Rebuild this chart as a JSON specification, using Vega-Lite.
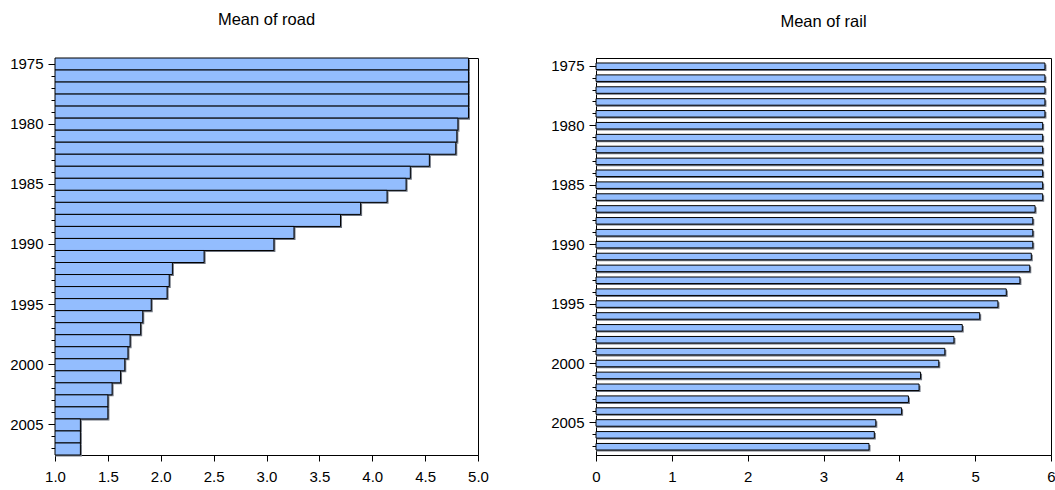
{
  "$schema": "https://vega.github.io/schema/vega-lite/v6.json",
  "background": "white",
  "padding": {"left": 9, "top": 11, "right": 0, "bottom": 5},
  "bounds": "flush",
  "spacing": 118,
  "config": {
    "view": {"stroke": "#000", "strokeWidth": 1},
    "axis": {
      "labelFont": "Liberation Sans", "labelFontSize": 15, "labelColor": "#000",
      "domainColor": "#000", "tickColor": "#000", "grid": false, "title": null,
      "labelPadding": 3, "labelFlush": false
    },
    "title": {"font": "Liberation Sans", "fontSize": 16.5, "fontWeight": "normal", "color": "#000", "offset": 28, "anchor": "middle"}
  },
  "data": {"values": [
    {"year": 1975, "road": 4.91, "rail": 5.92},
    {"year": 1976, "road": 4.91, "rail": 5.92},
    {"year": 1977, "road": 4.91, "rail": 5.92},
    {"year": 1978, "road": 4.91, "rail": 5.92},
    {"year": 1979, "road": 4.91, "rail": 5.92},
    {"year": 1980, "road": 4.81, "rail": 5.89},
    {"year": 1981, "road": 4.80, "rail": 5.89},
    {"year": 1982, "road": 4.79, "rail": 5.89},
    {"year": 1983, "road": 4.54, "rail": 5.89},
    {"year": 1984, "road": 4.36, "rail": 5.89},
    {"year": 1985, "road": 4.32, "rail": 5.89},
    {"year": 1986, "road": 4.14, "rail": 5.89},
    {"year": 1987, "road": 3.89, "rail": 5.79},
    {"year": 1988, "road": 3.70, "rail": 5.76},
    {"year": 1989, "road": 3.26, "rail": 5.76},
    {"year": 1990, "road": 3.07, "rail": 5.76},
    {"year": 1991, "road": 2.41, "rail": 5.74},
    {"year": 1992, "road": 2.11, "rail": 5.72},
    {"year": 1993, "road": 2.08, "rail": 5.59},
    {"year": 1994, "road": 2.06, "rail": 5.41},
    {"year": 1995, "road": 1.91, "rail": 5.30},
    {"year": 1996, "road": 1.83, "rail": 5.06},
    {"year": 1997, "road": 1.81, "rail": 4.83},
    {"year": 1998, "road": 1.71, "rail": 4.72},
    {"year": 1999, "road": 1.69, "rail": 4.60},
    {"year": 2000, "road": 1.66, "rail": 4.52},
    {"year": 2001, "road": 1.62, "rail": 4.28},
    {"year": 2002, "road": 1.54, "rail": 4.26},
    {"year": 2003, "road": 1.50, "rail": 4.12},
    {"year": 2004, "road": 1.50, "rail": 4.03},
    {"year": 2005, "road": 1.24, "rail": 3.69},
    {"year": 2006, "road": 1.24, "rail": 3.67},
    {"year": 2007, "road": 1.24, "rail": 3.60}
  ]},
  "hconcat": [
    {
      "width": 423, "height": 397,
      "title": "Mean of road",
      "encoding": {
        "y": {"field": "year", "type": "ordinal",
          "scale": {"paddingInner": 0, "paddingOuter": 0},
          "axis": {"labelExpr": "datum.value % 5 === 0 ? datum.value : ''",
            "tickSize": {"condition": {"test": "datum.value % 5 === 0", "value": 7}, "value": 4},
            "labelPadding": 5, "labelAngle": 0}},
        "x": {"field": "road", "type": "quantitative",
          "scale": {"domain": [1, 5], "zero": false, "nice": false},
          "axis": {"values": [1, 1.5, 2, 2.5, 3, 3.5, 4, 4.5, 5], "format": ".1f", "tickSize": 6, "labelPadding": 8}},
        "x2": {"datum": 1}
      },
      "layer": [
        {"mark": {"type": "bar", "fill": "#6e7480", "xOffset": 1.5, "yOffset": 1.5}},
        {"mark": {"type": "bar", "fill": "#93bdfe", "stroke": "#000", "strokeWidth": 1}}
      ]
    },
    {
      "width": 455, "height": 397,
      "title": "Mean of rail",
      "encoding": {
        "y": {"field": "year", "type": "ordinal",
          "scale": {"paddingInner": 0.45, "paddingOuter": 0.42},
          "axis": {"labelExpr": "datum.value % 5 === 0 ? datum.value : ''",
            "tickSize": {"condition": {"test": "datum.value % 5 === 0", "value": 7}, "value": 4},
            "labelPadding": 5, "labelAngle": 0}},
        "x": {"field": "rail", "type": "quantitative",
          "scale": {"domain": [0, 6], "nice": false},
          "axis": {"values": [0, 1, 2, 3, 4, 5, 6], "format": "d", "tickSize": 6, "labelPadding": 8}},
        "x2": {"datum": 0}
      },
      "layer": [
        {"mark": {"type": "bar", "fill": "#6e7480", "xOffset": 1.5, "yOffset": 1.5}},
        {"mark": {"type": "bar", "fill": "#93bdfe", "stroke": "#000", "strokeWidth": 1}}
      ]
    }
  ]
}
